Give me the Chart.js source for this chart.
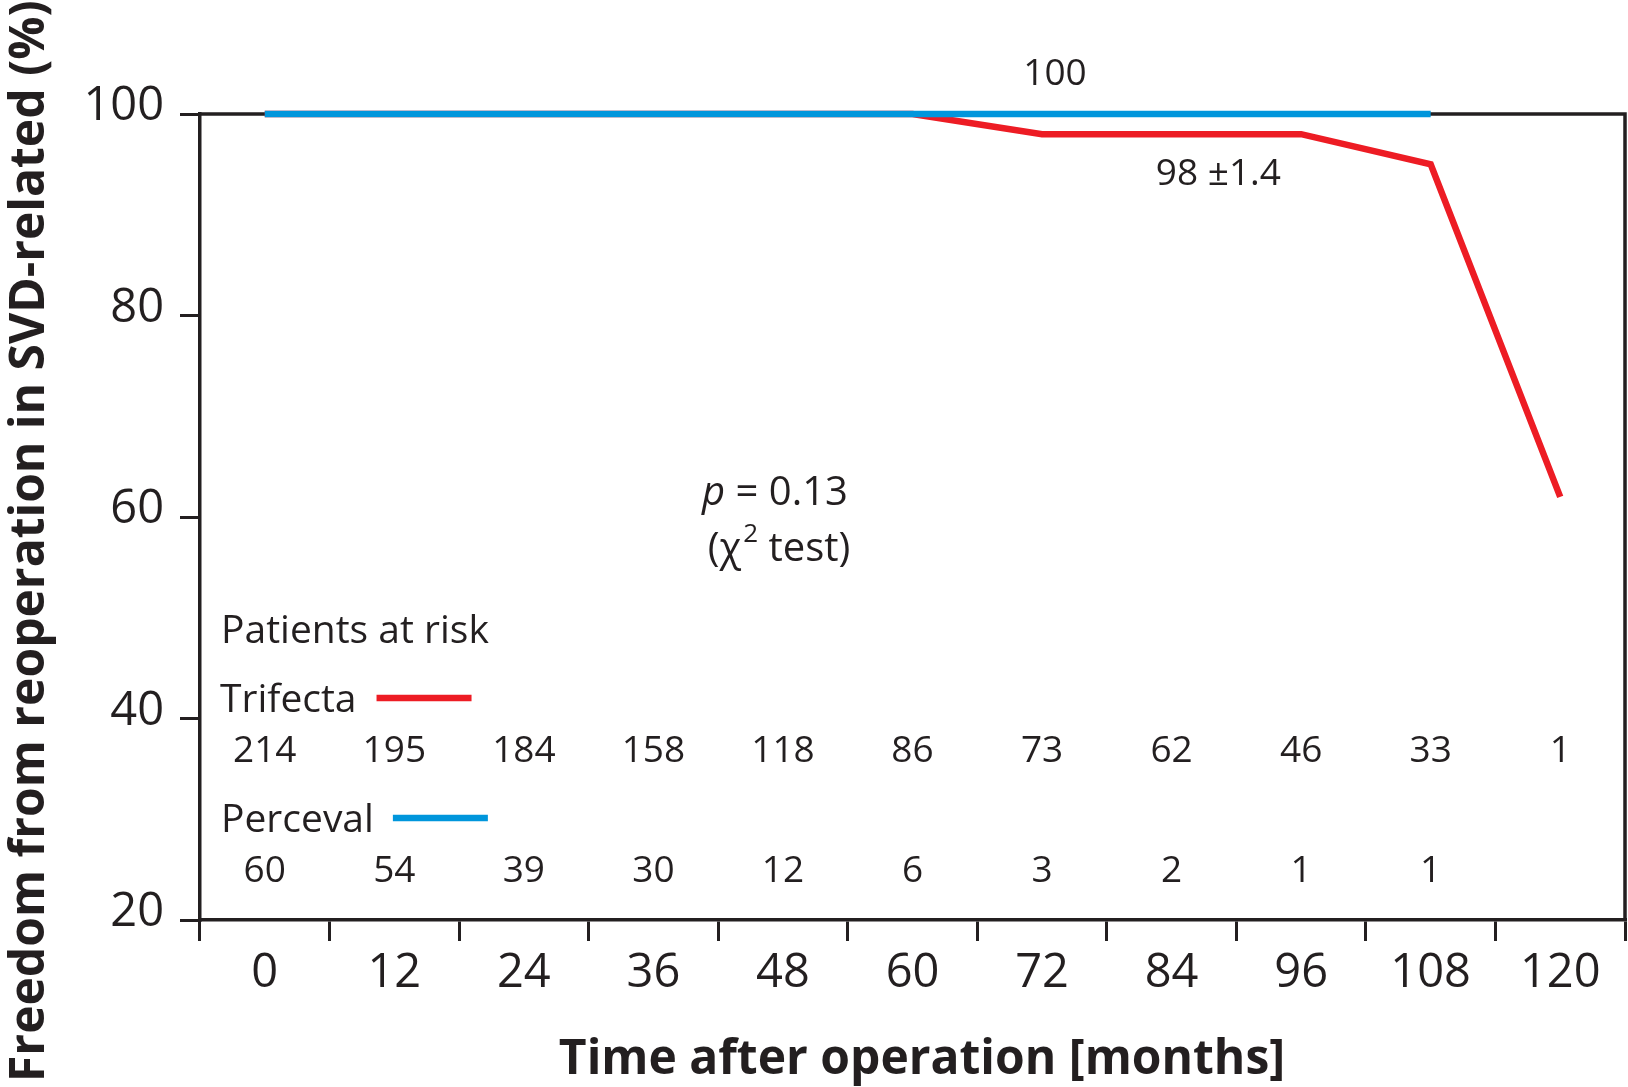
<!DOCTYPE html>
<html>
<head>
<meta charset="utf-8">
<script src="https://cdn.jsdelivr.net/npm/chart.js@4.4.1/dist/chart.umd.min.js"></script>
<style>
  html, body { margin: 0; padding: 0; background: #fff; }
  #wrap { width: 1628px; height: 1087px; }
</style>
</head>
<body>
<div id="wrap"><canvas id="km" width="1628" height="1087"></canvas></div>
<script>
// data
const months = ['0', '12', '24', '36', '48', '60', '72', '84', '96', '108', '120'];
const trifecta = [100, 100, 100, 100, 100, 100, 98, 98, 98, 95, 62];
const perceval = [100, 100, 100, 100, 100, 100, 100, 100, 100, 100, null];
const trifectaAtRisk = [214, 195, 184, 158, 118, 86, 73, 62, 46, 33, 1];
const percevalAtRisk = [60, 54, 39, 30, 12, 6, 3, 2, 1, 1, null];
const yTicks = [20, 40, 60, 80, 100];

const ink = '#231f20';
const red = '#ed1c24';
const blue = '#0096dc';
const fam = "'Open Sans', sans-serif";

Chart.defaults.font.family = fam;
Chart.defaults.color = ink;

const extras = {
  id: 'extras',
  beforeDatasetsDraw(chart) {
    const {ctx, chartArea: a} = chart;
    ctx.save();
    ctx.strokeStyle = ink;
    ctx.lineWidth = 3.5;
    ctx.lineJoin = 'miter';
    ctx.beginPath();
    ctx.moveTo(a.left, a.top);
    ctx.lineTo(a.right, a.top);
    ctx.lineTo(a.right, a.bottom);
    ctx.stroke();
    ctx.restore();
  },
  afterDraw(chart) {
    const {ctx, chartArea: a, scales: {x, y}} = chart;
    ctx.save();
    ctx.fillStyle = ink;
    ctx.textBaseline = 'alphabetic';

    // axis titles
    ctx.font = 'bold 48px ' + fam;
    ctx.textAlign = 'center';
    ctx.fillText('Time after operation [months]', 922, 1074);

    ctx.save();
    ctx.translate(44, 1082);
    ctx.rotate(-Math.PI / 2);
    ctx.font = 'bold 48px ' + fam;
    ctx.textAlign = 'left';
    ctx.fillText('Freedom from reoperation in SVD-related (%)', 0, 0);
    ctx.restore();

    // survival labels
    ctx.font = '37px ' + fam;
    ctx.textAlign = 'center';
    ctx.fillText('100', x.getPixelForValue(6) + 13, y.getPixelForValue(100) - 29);
    ctx.fillText('98 \u00b11.4', (x.getPixelForValue(7) + x.getPixelForValue(8)) / 2 - 18, y.getPixelForValue(98) + 51);

    // p value
    ctx.textAlign = 'left';
    ctx.font = 'italic 40px ' + fam;
    const pW = ctx.measureText('p').width;
    ctx.font = '40px ' + fam;
    const restW = ctx.measureText(' = 0.13').width;
    let px = 775 - (pW + restW) / 2;
    ctx.font = 'italic 40px ' + fam;
    ctx.fillText('p', px, 505);
    ctx.font = '40px ' + fam;
    ctx.fillText(' = 0.13', px + pW, 505);

    const w1 = ctx.measureText('(\u03c7').width;
    const w3 = ctx.measureText(' test)').width;
    ctx.font = '26px ' + fam;
    const w2 = ctx.measureText('2').width;
    px = 778 - (w1 + w2 + w3) / 2;
    ctx.font = '40px ' + fam;
    ctx.fillText('(\u03c7', px, 561);
    ctx.font = '26px ' + fam;
    ctx.fillText('2', px + w1 + 2, 542);
    ctx.font = '40px ' + fam;
    ctx.fillText(' test)', px + w1 + w2 + 2, 561);

    // patients at risk
    ctx.font = '39px ' + fam;
    ctx.fillText('Patients at risk', 221, 643);
    ctx.fillText('Trifecta', 220, 712);
    const tW = ctx.measureText('Trifecta').width;
    ctx.fillText('Perceval', 221, 832);
    const pvW = ctx.measureText('Perceval').width;

    ctx.lineWidth = 6.5;
    ctx.strokeStyle = red;
    ctx.beginPath();
    ctx.moveTo(220 + tW + 20, 698);
    ctx.lineTo(220 + tW + 115, 698);
    ctx.stroke();
    ctx.strokeStyle = blue;
    ctx.beginPath();
    ctx.moveTo(221 + pvW + 19, 818);
    ctx.lineTo(221 + pvW + 114, 818);
    ctx.stroke();

    ctx.font = '37px ' + fam;
    ctx.textAlign = 'center';
    trifectaAtRisk.forEach((n, i) => {
      if (n !== null) ctx.fillText(String(n), x.getPixelForValue(i), 762);
    });
    percevalAtRisk.forEach((n, i) => {
      if (n !== null) ctx.fillText(String(n), x.getPixelForValue(i), 882);
    });
    ctx.restore();
  }
};

new Chart(document.getElementById('km'), {
  type: 'line',
  data: {
    labels: months,
    datasets: [{
      label: 'Perceval',
      data: perceval,
      borderColor: blue,
      borderWidth: 6.5,
      pointRadius: 0,
      tension: 0,
      clip: false,
      order: 0
    }, {
      label: 'Trifecta',
      data: trifecta,
      borderColor: red,
      borderWidth: 6.5,
      borderJoinStyle: 'miter',
      pointRadius: 0,
      tension: 0,
      clip: false,
      order: 1
    }]
  },
  options: {
    responsive: false,
    animation: false,
    devicePixelRatio: 1,
    layout: { padding: { top: 114, right: 3, left: 0, bottom: 0 } },
    plugins: { legend: { display: false }, tooltip: { enabled: false } },
    scales: {
      x: {
        offset: true,
        afterFit: s => { s.height = 167; },
        grid: { offset: true, drawOnChartArea: false, tickLength: 21, color: ink, lineWidth: 3 },
        border: { color: ink, width: 3.5 },
        ticks: { font: { size: 47 }, color: ink, padding: 4, maxRotation: 0, autoSkip: false }
      },
      y: {
        min: 20,
        max: 100,
        afterFit: s => { s.width = 200; },
        afterBuildTicks: s => { s.ticks = yTicks.map(v => ({ value: v })); },
        grid: { drawOnChartArea: false, tickLength: 20, color: ink, lineWidth: 3 },
        border: { color: ink, width: 3.5 },
        ticks: { font: { size: 47 }, color: ink, padding: 16, labelOffset: -7 }
      }
    }
  },
  plugins: [extras]
});
</script>
</body>
</html>
